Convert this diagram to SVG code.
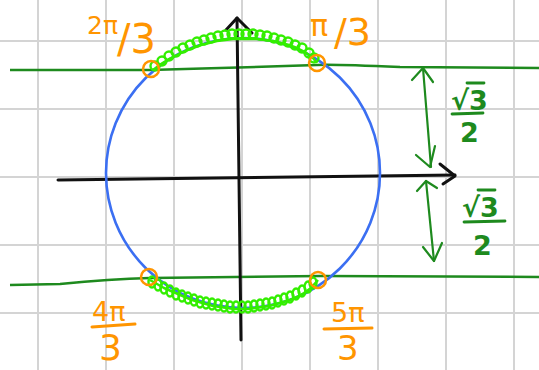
<svg xmlns="http://www.w3.org/2000/svg" width="539" height="370" viewBox="0 0 539 370">
<style>
.grid line{stroke:#d4d4d4;stroke-width:2}
.axis{stroke:#111;stroke-width:3;fill:none;stroke-linecap:round;stroke-linejoin:round}
.hline{stroke:#1e8a1e;stroke-width:2.5;fill:none}
.garrow{stroke:#1e8a1e;stroke-width:2.2;fill:none;stroke-linecap:round;stroke-linejoin:round}
.circ{stroke:#3b6ff2;stroke-width:2.6;fill:none}
.coil{stroke:#33ee00;stroke-width:2.5;fill:none;stroke-linejoin:round}
.mark{stroke:#ff9500;stroke-width:2.5;fill:none}
.olab{fill:#ff9500;font-family:"DejaVu Sans",sans-serif}
.glab{fill:#1e8a1e;font-family:"DejaVu Sans",sans-serif;font-weight:bold}
.oline{stroke:#ff9500;stroke-width:3;stroke-linecap:round}
.gline{stroke:#1e8a1e;stroke-width:2.8;stroke-linecap:round}
</style>
<defs>
<marker id="loop" markerWidth="12" markerHeight="12" refX="6" refY="6" markerUnits="userSpaceOnUse" overflow="visible">
<circle cx="6" cy="6" r="4.5" fill="none" stroke="#33ee00" stroke-width="2.4"/>
</marker>
<marker id="loopb" markerWidth="12" markerHeight="14" refX="6" refY="7" markerUnits="userSpaceOnUse" overflow="visible">
<ellipse cx="6" cy="7" rx="3.5" ry="5.5" fill="none" stroke="#33ee00" stroke-width="2.4"/>
</marker>
</defs>
<rect width="539" height="370" fill="#fff"/>
<g class="grid" id="grid">
<line x1="38" y1="0" x2="38" y2="370"/>
<line x1="106" y1="0" x2="106" y2="370"/>
<line x1="174" y1="0" x2="174" y2="370"/>
<line x1="242" y1="0" x2="242" y2="370"/>
<line x1="310" y1="0" x2="310" y2="370"/>
<line x1="378" y1="0" x2="378" y2="370"/>
<line x1="446" y1="0" x2="446" y2="370"/>
<line x1="514" y1="0" x2="514" y2="370"/>
<line x1="0" y1="41" x2="539" y2="41"/>
<line x1="0" y1="109" x2="539" y2="109"/>
<line x1="0" y1="177" x2="539" y2="177"/>
<line x1="0" y1="245" x2="539" y2="245"/>
<line x1="0" y1="313" x2="539" y2="313"/>
</g>
<g id="connectors">
<path class="hline" d="M10,70 L150,70 Q230,68 317,65 Q330,64 400,67 L539,68"/>
<path class="hline" d="M10,285 L60,284 Q110,279 150,278 L320,276 L539,277"/>
<path class="axis" d="M58,180 Q250,178 455,175"/>
<path class="axis" d="M440,164 L455,176 L443,184"/>
<path class="axis" d="M237,18 Q239,180 241,340"/>
<path class="axis" d="M226,30 L237,18 L252,33"/>
<path class="garrow" d="M423,68 L431,167"/>
<path class="garrow" d="M412,80 L423,68 L433,82"/>
<path class="garrow" d="M416,155 L430,167 L435,146"/>
<path class="garrow" d="M426,181 L434,261"/>
<path class="garrow" d="M417,191 L426,181 L437,188"/>
<path class="garrow" d="M423,247 L434,261 L442,243"/>
</g>
<g id="circle">
<ellipse class="circ" cx="243" cy="173" rx="137" ry="135"/>
</g>
<g id="top-arc">
<path class="coil" stroke-width="3.5" d="M153,70 L161,64 L169,59 L177,55 L185,51 L193,48 L201,45 L209,43 L217,41 L225,40 L233,39 L241,39 L249,39 L257,39 L265,40 L273,41 L281,43 L289,45 L297,48 L305,52 L313,58 L317,63"/>
<path fill="none" stroke="none" marker-start="url(#loop)" marker-mid="url(#loop)" marker-end="url(#loop)" d="M155,66 L162,61 L169,56 L176,52 L183,48 L190,45 L197,42 L204,40 L211,38 L218,36 L225,35 L232,34 L239,34 L246,34 L253,34 L260,35 L267,36 L274,38 L281,40 L288,42 L295,45 L302,48 L309,53 L314,58"/>
</g>
<g id="bottom-arc">
<path class="coil" stroke-width="4.5" d="M150,280 L157,284 L164,288 L171,291 L178,294 L185,297 L192,300 L199,302 L206,304 L213,306 L220,307 L227,308 L234,309 L241,309 L248,309 L255,308 L262,307 L269,306 L276,304 L283,302 L290,300 L297,297 L304,293 L311,288 L318,280"/>
<path fill="none" stroke="none" marker-start="url(#loopb)" marker-mid="url(#loopb)" marker-end="url(#loopb)" d="M152,282 L158,285 L164,288 L170,291 L176,294 L182,296 L188,298 L194,300 L200,302 L206,303 L212,304 L218,305 L224,306 L230,307 L236,307 L242,307 L248,307 L254,306 L260,305 L266,304 L272,303 L278,301 L284,299 L290,297 L296,294 L302,291 L308,287 L313,283"/>
</g>
<g id="point-2pi3">
<circle class="mark" cx="151" cy="69" r="8"/>
<text class="olab" x="87" y="34" font-size="25">2π</text>
<text class="olab" x="117" y="53" font-size="40">/3</text>
</g>
<g id="point-pi3">
<circle class="mark" cx="317" cy="63" r="8"/>
<text class="olab" x="310" y="36" font-size="30">π</text>
<text class="olab" x="334" y="45" font-size="38">/3</text>
</g>
<g id="point-4pi3">
<circle class="mark" cx="149" cy="277" r="8"/>
<text class="olab" x="92" y="321" font-size="27">4π</text>
<line class="oline" x1="92" y1="327" x2="135" y2="324"/>
<text class="olab" x="99" y="360" font-size="36">3</text>
</g>
<g id="point-5pi3">
<circle class="mark" cx="318" cy="280" r="8"/>
<text class="olab" x="331" y="322" font-size="27">5π</text>
<line class="oline" x1="324" y1="329" x2="372" y2="328"/>
<text class="olab" x="337" y="360" font-size="34">3</text>
</g>
<g id="label-top">
<text class="glab" x="451" y="110" font-size="27">√3</text>
<line class="gline" x1="467" y1="83" x2="484" y2="83"/>
<line class="gline" x1="452" y1="114" x2="483" y2="113"/>
<text class="glab" x="460" y="142" font-size="27">2</text>
</g>
<g id="label-bottom">
<text class="glab" x="462" y="217" font-size="27">√3</text>
<line class="gline" x1="478" y1="190" x2="495" y2="190"/>
<line class="gline" x1="464" y1="222" x2="505" y2="221"/>
<text class="glab" x="473" y="255" font-size="27">2</text>
</g>
</svg>
